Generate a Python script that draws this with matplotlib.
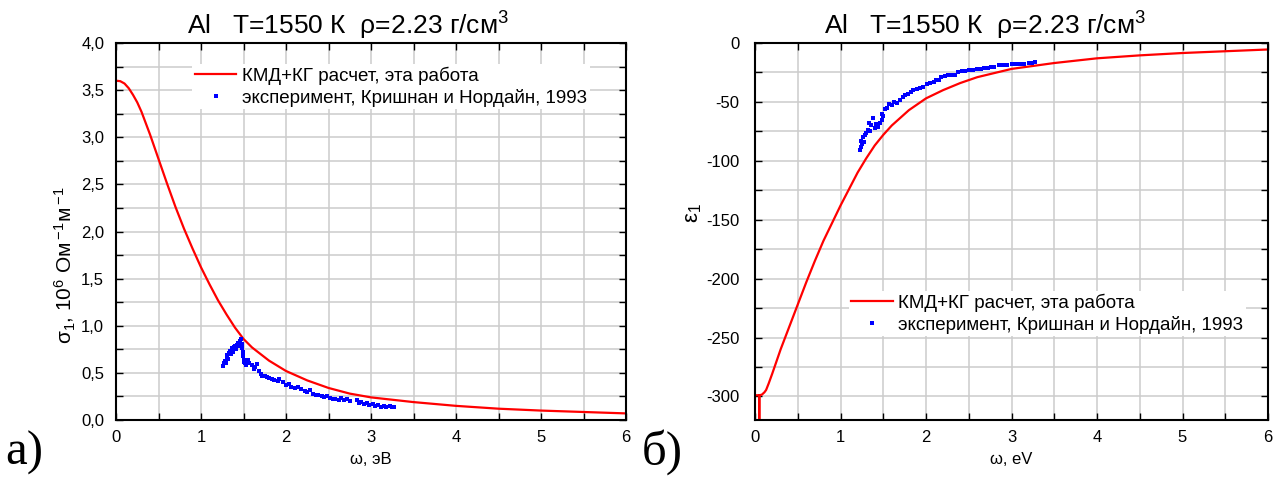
import matplotlib
matplotlib.use("Agg")
import matplotlib.pyplot as plt
from matplotlib.ticker import MultipleLocator, FuncFormatter

plt.rcParams['font.family'] = ['Liberation Sans', 'DejaVu Sans']
plt.rcParams['mathtext.fontset'] = 'custom'
plt.rcParams['mathtext.rm'] = 'Liberation Sans'
plt.rcParams['mathtext.it'] = 'Liberation Sans:italic'
plt.rcParams['axes.unicode_minus'] = False

# ---- data: conductivity (left panel) ----
omega_calc_sigma = [0, 0.05, 0.1, 0.15, 0.2, 0.25, 0.3, 0.4, 0.5, 0.6, 0.7, 0.8, 0.9, 1.0, 1.1, 1.2,
                    1.3, 1.4, 1.5, 1.6, 1.8, 2.0, 2.25, 2.5, 2.75, 3.0, 3.5, 4.0, 4.5, 5.0, 5.5, 6.0]
sigma_calc = [3.60, 3.595, 3.57, 3.52, 3.45, 3.37, 3.27, 3.03, 2.77, 2.51, 2.26, 2.03, 1.82, 1.62, 1.44,
              1.27, 1.12, 0.98, 0.86, 0.77, 0.63, 0.52, 0.42, 0.34, 0.28, 0.24, 0.19, 0.15, 0.12,
              0.10, 0.085, 0.07]

omega_exp_sigma = [1.26, 1.27, 1.28, 1.29, 1.30, 1.31, 1.32, 1.33, 1.34, 1.35,
                   1.36, 1.37, 1.38, 1.39, 1.40, 1.41, 1.42, 1.43, 1.44, 1.45,
                   1.46, 1.47, 1.48, 1.48, 1.49, 1.49, 1.50, 1.51, 1.52, 1.53,
                   1.55, 1.57, 1.60, 1.62, 1.64, 1.66, 1.68, 1.70, 1.72, 1.75,
                   1.78, 1.80, 1.83, 1.86, 1.90, 1.92, 1.96, 2.00, 2.03, 2.06,
                   2.10, 2.14, 2.18, 2.22, 2.25, 2.28, 2.32, 2.35, 2.38, 2.42,
                   2.45, 2.48, 2.52, 2.55, 2.58, 2.62, 2.65, 2.68, 2.72, 2.75,
                   2.84, 2.86, 2.88, 2.92, 2.95, 2.98, 3.02, 3.05, 3.08, 3.12,
                   3.15, 3.18, 3.22, 3.25, 3.27]
sigma_exp = [0.57, 0.60, 0.63, 0.61, 0.66, 0.69, 0.65, 0.71, 0.73, 0.70,
             0.74, 0.76, 0.72, 0.77, 0.79, 0.75, 0.80, 0.78, 0.82, 0.80,
             0.84, 0.86, 0.81, 0.76, 0.72, 0.68, 0.64, 0.62, 0.60, 0.58,
             0.64, 0.61, 0.58, 0.54, 0.56, 0.59, 0.52, 0.49, 0.47, 0.47,
             0.46, 0.45, 0.44, 0.42, 0.41, 0.43, 0.40, 0.37, 0.38, 0.35,
             0.34, 0.35, 0.33, 0.31, 0.30, 0.32, 0.28, 0.27, 0.26, 0.25,
             0.24, 0.25, 0.23, 0.22, 0.22, 0.21, 0.23, 0.21, 0.22, 0.20,
             0.21, 0.18, 0.19, 0.17, 0.18, 0.16, 0.17, 0.15, 0.16, 0.14,
             0.15, 0.14, 0.15, 0.14, 0.14]

# ---- data: permittivity (right panel) ----
omega_calc_eps = [0.0, 0.05, 0.05, 0.05, 0.08, 0.11, 0.13, 0.16, 0.2, 0.25, 0.3, 0.4, 0.5, 0.6, 0.7,
                  0.8, 0.9, 1.0, 1.1, 1.2, 1.3, 1.4, 1.5, 1.6, 1.8, 2.0, 2.2, 2.4, 2.6, 2.8,
                  3.0, 3.5, 4.0, 4.5, 5.0, 5.5, 6.0]
eps_calc = [-299, -299, -340, -299, -298.5, -296.5, -294.5, -289, -281, -270.5, -260, -241, -222, -203, -185,
            -168, -153, -138, -124, -110, -98, -87, -78, -70, -57, -47, -40, -34, -29, -25.5,
            -22, -17, -13, -10.5, -8.5, -7, -5.5]

omega_exp_eps = [1.23, 1.24, 1.25, 1.24, 1.26, 1.27, 1.29, 1.30, 1.32, 1.34,
                 1.36, 1.33, 1.38, 1.40, 1.42, 1.44, 1.46, 1.48, 1.50, 1.48,
                 1.52, 1.54, 1.57, 1.60, 1.63, 1.66, 1.70, 1.73, 1.76, 1.79,
                 1.82, 1.85, 1.90, 1.93, 1.96, 2.01, 2.05, 2.09, 2.12, 2.15,
                 2.18, 2.22, 2.26, 2.30, 2.34, 2.38, 2.42, 2.46, 2.50, 2.55,
                 2.60, 2.64, 2.68, 2.72, 2.76, 2.80, 2.85, 2.90, 2.95, 3.00,
                 3.05, 3.10, 3.15, 3.20, 3.24, 3.27]
eps_exp = [-91, -88, -86, -83, -80, -84, -78, -76, -74, -75,
           -70, -68, -64, -72, -69, -71, -68, -65, -62, -60,
           -56, -55, -52, -53, -50, -51, -48, -46, -44, -43,
           -42, -40, -39, -38, -37, -35, -34, -33, -31, -31,
           -29, -28, -27, -27, -27, -25, -24, -24, -23, -23,
           -22, -22, -21, -21, -20, -20, -19, -19, -18.5, -18,
           -18, -17.5, -17.5, -17, -17, -16.5]

title_text = "Al   T=1550 К  ρ=2.23 г/см$^3$"
label_calc = "КМД+КГ расчет, эта работа"
label_exp = "эксперимент, Кришнан и Нордайн, 1993"

W, H = 1280, 479
fig = plt.figure(figsize=(W / 100, H / 100), dpi=100)

def px_axes(x0, x1, y0, y1):
    return fig.add_axes([x0 / W, 1 - y1 / H, (x1 - x0) / W, (y1 - y0) / H])

ax1 = px_axes(116, 626, 43, 420)
ax2 = px_axes(755, 1268, 43, 420)

def style(ax, title_x, ypad):
    ax.grid(True, which='both', color='#cccccc', linewidth=1.1)
    ax.set_axisbelow(True)
    ax.tick_params(which='both', direction='in', top=True, right=True,
                   length=5, width=1, labelsize=12, colors='black', pad=7)
    ax.tick_params(axis='y', which='both', pad=ypad)
    for s in ax.spines.values():
        s.set_linewidth(1.5)
    ax.set_title(title_text, fontsize=19, pad=6, x=title_x)

legend_kw = dict(fontsize=13.5, frameon=True, facecolor='white', edgecolor='none',
                 framealpha=1, handlelength=2.2, handletextpad=0.3, labelspacing=0.2,
                 borderpad=0.15, fancybox=False)

# left panel
ax1.plot(omega_calc_sigma, sigma_calc, color='red', lw=1.6, label=label_calc)
ax1.plot(omega_exp_sigma, sigma_exp, 's', color='blue', ms=3.0, mew=0, label=label_exp)
ax1.set_xlim(0, 6)
ax1.set_ylim(0, 4)
ax1.xaxis.set_major_locator(MultipleLocator(1))
ax1.xaxis.set_minor_locator(MultipleLocator(0.5))
ax1.yaxis.set_major_locator(MultipleLocator(0.5))
ax1.yaxis.set_minor_locator(MultipleLocator(0.25))
ax1.yaxis.set_major_formatter(FuncFormatter(lambda v, p: f"{v:.1f}".replace('.', ',')))
style(ax1, 0.455, 8.5)
ax1.set_xlabel("ω, эВ", fontsize=12)
ax1.set_ylabel("σ$_1$, 10$^6$ Ом$\\,^{-1}$м$\\,^{-1}$", fontsize=15)
ax1.yaxis.set_label_coords(-0.074, 0.41)
ax1.xaxis.set_label_coords(0.5, -0.085)
ax1.legend(loc='upper left', bbox_to_anchor=(0.131, 0.97), **legend_kw)

# right panel
ax2.plot(omega_calc_eps, eps_calc, color='red', lw=1.6, label=label_calc)
ax2.plot(omega_exp_eps, eps_exp, 's', color='blue', ms=3.0, mew=0, label=label_exp)
ax2.set_xlim(0, 6)
ax2.set_ylim(-320, 0)
ax2.xaxis.set_major_locator(MultipleLocator(1))
ax2.xaxis.set_minor_locator(MultipleLocator(0.5))
ax2.yaxis.set_major_locator(MultipleLocator(50))
ax2.yaxis.set_minor_locator(MultipleLocator(25))
style(ax2, 0.448, 11)
ax2.set_xlabel("ω, eV", fontsize=12)
ax2.xaxis.set_label_coords(0.5, -0.085)
ax2.set_ylabel("ε$_1$", fontsize=16)
ax2.yaxis.set_label_coords(-0.1, 0.55)
ax2.legend(loc='upper left', bbox_to_anchor=(0.164, 0.368), **legend_kw)

# panel letters
fig.text(5 / W, 1 - 465 / H, "а)", fontsize=35, family='Liberation Serif', ha='left', va='baseline')
fig.text(642 / W, 1 - 465 / H, "б)", fontsize=35, family='Liberation Serif', ha='left', va='baseline')

fig.savefig("out.png", dpi=100)
